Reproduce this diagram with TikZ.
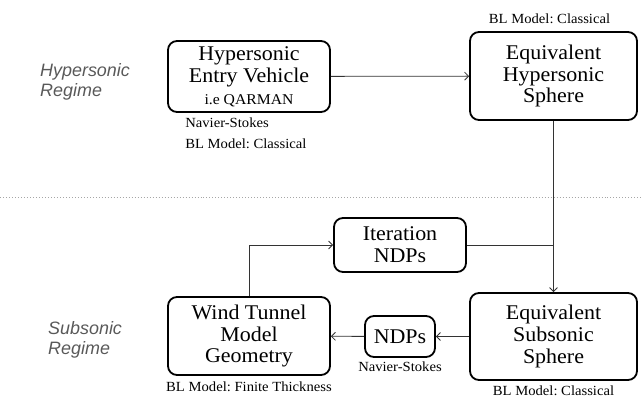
\documentclass[tikz,border=0pt]{standalone}
\usepackage{fontspec}
\setmainfont{Liberation Serif}[FakeStretch=1.05]
\newfontfamily\regimefont{Liberation Sans}
\usetikzlibrary{arrows.meta,positioning,calc}
\frenchspacing

\begin{document}
\begin{tikzpicture}[
    x=1bp, y=-1bp,
    >={Straight Barb[length=4bp,width=8bp]},
    box/.style={
        rectangle,
        rounded corners=9bp,
        draw=black,
        line width=1.8bp,
        inner sep=0pt,
        font=\fontsize{21}{22}\selectfont,
        align=center
    },
    note/.style={
        font=\fontsize{14}{21}\selectfont,
        inner sep=0pt
    },
    regime/.style={
        font=\regimefont\itshape\fontsize{18}{20}\selectfont,
        text=black!65,
        align=left,
        anchor=west,
        inner sep=0pt
    },
    link/.style={
        line width=0.8bp,
        draw=black!80
    }
]
\useasboundingbox (0,0) rectangle (642,398);

% Nodes -- hypersonic regime (top row)
\node[box, minimum width=162bp, minimum height=71bp] (vehicle) at (249,76.5)
    {Hypersonic\\Entry Vehicle\\{\fontsize{15}{17}\selectfont i.e QARMAN}};
\node[box, minimum width=167bp, minimum height=88bp] (hypsphere) at (553.5,76)
    {Equivalent\\Hypersonic\\Sphere};

% Nodes -- subsonic regime (bottom rows)
\node[box, minimum width=132bp, minimum height=54bp] (iteration) at (400,245)
    {Iteration\\NDPs};
\node[box, minimum width=167bp, minimum height=87bp] (subsphere) at (553.5,336.5)
    {Equivalent\\Subsonic\\Sphere};
\node[box, minimum width=70bp, minimum height=41bp] (ndps) at (400,336.5)
    {NDPs};
\node[box, minimum width=162bp, minimum height=78bp] (tunnel) at (249,336)
    {Wind Tunnel\\Model\\Geometry};

% Regime separator
\draw[black!35, dotted, line width=1bp] (0,197) -- (642,197);

% Arrows
\draw[link,->] (vehicle) -- (hypsphere);
\draw[link,->] (hypsphere.south) -- (subsphere.north);
\draw[link] (iteration.east) -- (hypsphere.south |- iteration.east);
\draw[link,->] (subsphere) -- (ndps);
\draw[link,->] (ndps) -- (tunnel);
\draw[link,->] (tunnel.north) |- (iteration.west);

% Model notes
\node[note, anchor=south] (hypnote) at ($(hypsphere.north)+(-4,-7)$) {BL Model: Classical};
\node[note, anchor=north west, align=left] (vehnote) at ($(vehicle.south west)+(18,5)$)
    {Navier-Stokes\\BL Model: Classical};
\node[note, below=4bp of ndps] (ndpnote) {Navier-Stokes};
\node[note, below=6bp of tunnel] (tunnote) {BL Model: Finite Thickness};
\node[note, below=5bp of subsphere] (subnote) {BL Model: Classical};

% Regime labels on the left
\node[regime] (hyplabel) at (40,82) {Hypersonic\\Regime};
\node[regime] (sublabel) at (48,340) {Subsonic\\Regime};

\end{tikzpicture}
\end{document}
